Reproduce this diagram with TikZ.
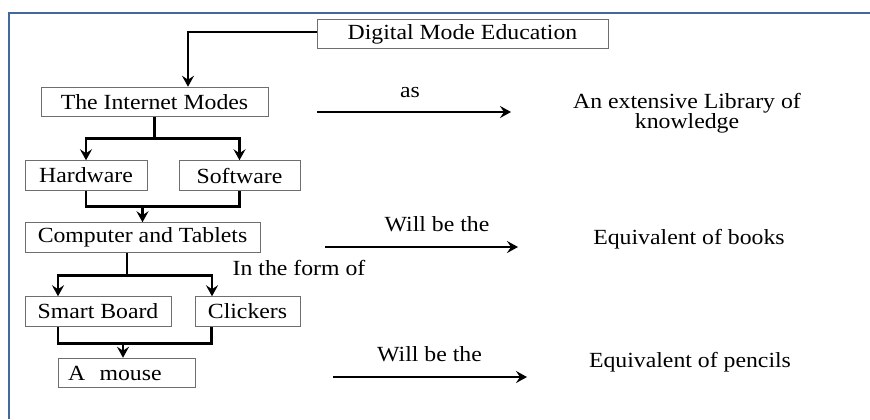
\documentclass[tikz,border=0pt]{standalone}
\usepackage{fontspec}
\setmainfont{Liberation Serif}[FakeStretch=1.1]
\usetikzlibrary{positioning, arrows.meta}

\begin{document}
\begin{tikzpicture}[
        >=Stealth,
        % one unit = one pixel of the slide, y pointing down
        x=0.5pt, y=-0.5pt,
        font=\fontsize{10.8}{12}\selectfont
    ]
        % Define custom colors matching the slide
        \definecolor{frameblue}{RGB}{68,104,153}
        \definecolor{boxgray}{RGB}{110,110,110}

        % Define node styles
        \tikzstyle{box}=[
            draw=boxgray,
            line width=0.5pt,
            inner sep=0pt,
            minimum height=14.75pt
        ]
        \tikzstyle{flowline}=[line width=1.4pt]
        \tikzstyle{flowarrow}=[flowline, -{Stealth[length=5.5pt,width=6pt,inset=2pt]}]
        \tikzstyle{label}=[anchor=base, inner sep=0pt]

        \useasboundingbox (0,0) rectangle (870,419);

        % --- Slide frame ---
        \draw[frameblue, line width=1.25pt] (870,13) -- (9,13) -- (9,419);

        % --- Left Column (Boxes) ---
        \node[box, minimum width=145.5pt] (digital) at (462.5,34) {Digital Mode Education};
        \node[box, minimum width=113.5pt] (internet) at (154.5,102) {The Internet Modes};
        \node[box, minimum width=61pt] (hardware) at (86,175.5) {Hardware};
        \node[box, minimum width=60.5pt] (software) at (239.5,175.5) {Software};
        \node[box, minimum width=117.5pt] (computer) at (142.5,237.5) {Computer and Tablets};
        \node[box, minimum width=73pt] (smart) at (98,311.5) {Smart Board};
        \node[box, minimum width=52.5pt] (clickers) at (247.5,311.5) {Clickers};
        \node[box, minimum width=68.5pt, inner xsep=5pt, text width=58.5pt, align=left] (mouse) at (126.5,373) {A\ \ mouse};

        \node[label] (formof) at (299,275) {In the form of};

        % --- Main Flow Connections ---
        \draw[flowarrow] ([yshift=1pt]digital.west) -| ([xshift=16.75pt]internet.north);

        \draw[flowline] (internet.south) -- ++(0,-10.5pt) coordinate (split1);
        \draw[flowarrow] (split1) -| (hardware.north);
        \draw[flowarrow] (split1) -| (software.north);

        \draw[flowline] (hardware.south) -- ++(0,-8pt) coordinate (join1) -| (software.south);
        \draw[flowarrow] (join1 -| computer.north) -- (computer.north);

        \draw[flowline] ([xshift=-7.75pt]computer.south) -- ++(0,-11.5pt) coordinate (split2);
        \draw[flowarrow] (split2) -| ([xshift=-20pt]smart.north);
        \draw[flowarrow] (split2) -| ([xshift=-17.75pt]clickers.north);

        \draw[flowline] ([xshift=-20pt]smart.south) -- ++(0,-8.5pt) coordinate (join2) -| ([xshift=-18pt]clickers.south);
        \path ([xshift=-1.75pt]mouse.north) coordinate (mousein);
        \draw[flowarrow] (join2 -| mousein) -- (mousein);

        % --- Right Column (Meanings) ---
        \node[label] (as) at (410,97) {as};
        \node[align=center, inner sep=0pt, font=\fontsize{10.8}{10}\selectfont] (library) at (687,113) {An extensive Library of\\knowledge};
        \node[label] (willbooks) at (437,231.7) {Will be the};
        \node[label] (books) at (689,244.3) {Equivalent of books};
        \node[label] (willpencils) at (429.5,361.7) {Will be the};
        \node[label] (pencils) at (690,367.3) {Equivalent of pencils};

        \coordinate (asfrom) at (317,112);
        \coordinate (asto) at (511,112);
        \coordinate (booksfrom) at (325,247);
        \coordinate (booksto) at (518,247);
        \coordinate (pencilsfrom) at (333,377);
        \coordinate (pencilsto) at (527,377);

        \draw[flowarrow] (asfrom) -- (asto);
        \draw[flowarrow] (booksfrom) -- (booksto);
        \draw[flowarrow] (pencilsfrom) -- (pencilsto);

    \end{tikzpicture}
\end{document}
